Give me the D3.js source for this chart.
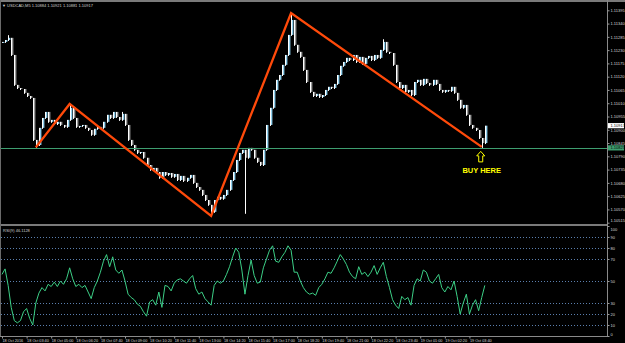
<!DOCTYPE html>
<html>
<head>
<meta charset="utf-8">
<script src="https://cdn.jsdelivr.net/npm/d3@7"></script>
<style>
  body { margin: 0; background: #000; }
  svg { display: block; }
  text { font-family: "Liberation Sans", Arial, sans-serif; }
</style>
</head>
<body>
<div id="chart"></div>
<script>
var W = 625, H = 343;

var symbol = "USDCAD,M5";
var headerOHLC = ["1.10884", "1.10921", "1.10881", "1.10917"];
var BASE = 1.1; // closes are in points above 1.10000

// one close per bar
var closePts = [
  1264, 1272, 1281, 1210, 1086, 1073, 1069, 1053, 1040, 1032,
  858, 837, 908, 949, 974, 933, 941, 924, 933, 920,
  912, 941, 991, 949, 912, 916, 920, 908, 899, 879,
  904, 912, 908, 933, 962, 949, 974, 953, 941, 966,
  920, 858, 837, 817, 804, 808, 784, 754, 734, 742,
  725, 701, 725, 713, 721, 705, 717, 692, 709, 688,
  701, 713, 680, 663, 651, 630, 609, 589, 560, 609,
  622, 614, 630, 651, 692, 725, 775, 804, 817, 784,
  825, 817, 784, 767, 754, 817, 920, 991, 1065, 1107,
  1127, 1169, 1210, 1293, 1355, 1252, 1223, 1202, 1148, 1098,
  1057, 1040, 1049, 1036, 1044, 1065, 1078, 1073, 1090, 1127,
  1165, 1181, 1198, 1189, 1210, 1181, 1202, 1173, 1198, 1206,
  1189, 1210, 1198, 1231, 1264, 1223, 1218, 1169, 1098, 1073,
  1086, 1057, 1065, 1044, 1098, 1107, 1086, 1111, 1094, 1086,
  1107, 1090, 1065, 1057, 1065, 1061, 1078, 1053, 1024, 991,
  1003, 962, 920, 908, 899, 866, 845, 917
];

// long wicks
var wickBars = [2, 11, 22, 39, 68, 79, 94, 124, 156];
var wickPts  = [1292, 827, 1007, 974, 543, 556, 1384, 1275, 829];

var rsiValues = [
  56, 61, 46, 26, 14, 12, 14, 22, 25, 16,
  10, 30, 39, 44, 41, 47, 45, 49, 45, 50,
  47, 52, 62, 52, 45, 47, 44, 46, 40, 34,
  44, 50, 58, 68, 74, 63, 72, 60, 57, 60,
  50, 38, 35, 33, 29, 27, 22, 18, 31, 33,
  28, 40, 26, 46, 45, 41, 48, 51, 52, 50,
  48, 52, 55, 43, 38, 40, 34, 31, 28, 46,
  50, 48, 50, 56, 63, 72, 80, 76, 60, 38,
  55, 69, 55, 48, 49, 62, 70, 78, 82, 68,
  67, 72, 76, 82, 78, 58, 58, 50, 44, 40,
  38, 39, 37, 44, 47, 52, 58, 57, 62, 68,
  74, 70, 65, 58, 54, 52, 63, 56, 58, 54,
  58, 64, 56, 62, 67, 54, 44, 33, 28, 25,
  36, 33, 35, 28, 46, 52, 50, 60, 58, 50,
  48, 52, 56, 44, 40, 45, 42, 50, 36, 20,
  30, 38, 20, 28, 33, 23, 35, 46
];

var zigzagBars = [11, 22, 68, 94, 156];
var zigzagPts  = [827, 1007, 543, 1384, 829];

var priceTicks = [1.11395, 1.11340, 1.11285, 1.11230, 1.11175, 1.11120, 1.11065,
  1.11010, 1.10955, 1.10900, 1.10845, 1.10790, 1.10735, 1.10680, 1.10625,
  1.10570, 1.10515];
var rsiTicks = [100, 90, 80, 70, 50, 30, 20, 10, 0];
var rsiLevels = [90, 80, 70, 50, 30, 20, 10];
var buyLevel = 1.10825, lastPrice = 1.10917, rsiLast = "46.1128";
var buyText = "BUY HERE";

var t0 = new Date(2016, 9, 18, 2, 20);
var barMs = 10 * 60 * 1000;
function barTime(i) { return new Date(t0.getTime() + i * barMs); }
var timeTicks = d3.range(0, closePts.length, 8).map(barTime);

var x = d3.scaleTime().domain([t0, barTime(157)]).range([2, 484.8]);
var y = d3.scaleLinear().domain([1.10515, 1.11395]).range([222.7, 10.3]);
var yr = d3.scaleLinear().domain([0, 100]).range([336, 226]);
function px(v) { return BASE + v / 100000; }

var svg = d3.select("#chart").append("svg").attr("width", W).attr("height", H);
svg.append("rect").attr("width", W).attr("height", H).attr("fill", "#000");

var defs = svg.append("defs");
defs.append("clipPath").attr("id", "clipMain").append("rect")
  .attr("x", 1).attr("y", 2).attr("width", 606).attr("height", 222);
defs.append("clipPath").attr("id", "clipRsi").append("rect")
  .attr("x", 1).attr("y", 226).attr("width", 606).attr("height", 110);

// frames
svg.append("rect").attr("x", 0).attr("y", 0).attr("width", W).attr("height", 2).attr("fill", "#7a7a7a");
svg.append("rect").attr("x", 0).attr("y", 224).attr("width", 608).attr("height", 2).attr("fill", "#7a7a7a");
svg.append("line").attr("x1", 0.5).attr("x2", 0.5).attr("y1", 0).attr("y2", 336).attr("stroke", "#6a6a6a");
svg.append("line").attr("x1", 0).attr("x2", 608).attr("y1", 336.5).attr("y2", 336.5).attr("stroke", "#8a8a8a");
svg.append("line").attr("x1", 607.5).attr("x2", 607.5).attr("y1", 0).attr("y2", 337).attr("stroke", "#8a8a8a");

// candles
var main = svg.append("g").attr("clip-path", "url(#clipMain)");
var bars = closePts.map(function(c, i) {
  var o = i ? closePts[i - 1] : c;
  var hi = Math.max(o, c), lo = Math.min(o, c);
  var k = wickBars.indexOf(i);
  if (k >= 0) { hi = Math.max(hi, wickPts[k]); lo = Math.min(lo, wickPts[k]); }
  return { i: i, o: o, c: c, hi: hi, lo: lo };
});
var cg = main.selectAll("g.bar").data(bars).enter().append("g").attr("class", "bar");
cg.append("line")
  .attr("x1", function(d) { return Math.round(x(barTime(d.i))) + 0.5; })
  .attr("x2", function(d) { return Math.round(x(barTime(d.i))) + 0.5; })
  .attr("y1", function(d) { return y(px(d.hi)); })
  .attr("y2", function(d) { return y(px(d.lo)) + 1; })
  .attr("stroke", "#ffffff").attr("stroke-width", 1);
cg.append("rect")
  .attr("x", function(d) { return Math.round(x(barTime(d.i))) + 1; })
  .attr("width", 1.4)
  .attr("y", function(d) { return y(px(Math.max(d.o, d.c))); })
  .attr("height", function(d) { return Math.max(1, y(px(Math.min(d.o, d.c))) - y(px(Math.max(d.o, d.c)))); })
  .attr("fill", function(d) { return d.c >= d.o ? "#8fd0ee" : "#9a9a9a"; });

// buy level line
main.append("line").attr("x1", 1).attr("x2", 607)
  .attr("y1", Math.round(y(buyLevel)) + 0.5).attr("y2", Math.round(y(buyLevel)) + 0.5)
  .attr("stroke", "#3e9e70").attr("stroke-width", 1);

// zigzag
var zz = zigzagBars.map(function(b, k) { return [x(barTime(b)), y(px(zigzagPts[k]))]; });
main.append("path").attr("d", d3.line()(zz))
  .attr("fill", "none").attr("stroke", "#ff4a0a").attr("stroke-width", 2.3)
  .attr("stroke-linejoin", "miter");

// arrow + text
var ax = x(barTime(zigzagBars[4])) - 1, ay = y(buyLevel) + 3.5;
var arrow = [[ax, ay], [ax + 4, ay + 4.5], [ax + 2, ay + 4.5], [ax + 2, ay + 10.5],
  [ax - 2, ay + 10.5], [ax - 2, ay + 4.5], [ax - 4, ay + 4.5]];
svg.append("path").attr("d", d3.line()(arrow) + "Z")
  .attr("fill", "none").attr("stroke", "#ffff00").attr("stroke-width", 1);
svg.append("text").attr("x", ax + 1).attr("y", ay + 21.5).attr("text-anchor", "middle")
  .attr("fill", "#ffff00").attr("font-size", "7.5px").attr("font-weight", "bold").text(buyText);

// title
svg.append("text").attr("x", 2).attr("y", 6.5).attr("fill", "#d0d0d0").attr("font-size", "4px")
  .text("\u25BC " + symbol + "  " + headerOHLC.join(" "));

// price axis
var pa = svg.append("g").attr("transform", "translate(607.5,0)")
  .call(d3.axisRight(y).tickValues(priceTicks).tickSize(2).tickFormat(d3.format(".5f")));
pa.select(".domain").remove();
pa.selectAll("line").attr("stroke", "#9a9a9a");
pa.selectAll("text").attr("fill", "#d8d8d8").attr("font-size", "4px").attr("x", 3)
  .attr("dy", function(d) { return d === 1.10515 ? "-0.2em" : "0.32em"; });

// price boxes
function priceBox(v, bg, fg) {
  var g = svg.append("g").attr("transform", "translate(608," + y(v) + ")");
  g.append("rect").attr("x", 0).attr("y", -2.6).attr("width", 16).attr("height", 5.2).attr("fill", bg);
  g.append("text").attr("x", 2.5).attr("y", 1.5).attr("fill", fg).attr("font-size", "4px").text(d3.format(".5f")(v));
}
priceBox(lastPrice, "#ffffff", "#000000");
priceBox(buyLevel, "#3e9e70", "#000000");

// RSI window
var rg = svg.append("g").attr("clip-path", "url(#clipRsi)");
rg.selectAll("line.lvl").data(rsiLevels).enter().append("line").attr("class", "lvl")
  .attr("x1", 1).attr("x2", 607)
  .attr("y1", function(d) { return Math.round(yr(d)) + 0.5; })
  .attr("y2", function(d) { return Math.round(yr(d)) + 0.5; })
  .attr("stroke", "#5b7fae").attr("stroke-width", 1).attr("stroke-dasharray", "1,2");
rg.append("path")
  .attr("d", d3.line().x(function(d, i) { return x(barTime(i)); }).y(function(d) { return yr(d); })(rsiValues))
  .attr("fill", "none").attr("stroke", "#3ccf86").attr("stroke-width", 1);

svg.append("text").attr("x", 3).attr("y", 231.5).attr("fill", "#d0d0d0").attr("font-size", "4px")
  .text("RSI(9) " + rsiLast);

var ra = svg.append("g").attr("transform", "translate(607.5,0)")
  .call(d3.axisRight(yr).tickValues(rsiTicks).tickSize(2).tickFormat(d3.format("d")));
ra.select(".domain").remove();
ra.selectAll("line").attr("stroke", "#9a9a9a");
ra.selectAll("text").attr("fill", "#d8d8d8").attr("font-size", "4px").attr("x", 3)
  .attr("dy", function(d) { return d === 100 ? "1em" : d === 0 ? "-0.2em" : "0.32em"; });

// time axis
var fmtFirst = d3.timeFormat("%d %b %Y"), fmt = d3.timeFormat("%d %b %H:%M");
var ta = svg.append("g").attr("transform", "translate(0,336.5)")
  .call(d3.axisBottom(x).tickValues(timeTicks).tickSize(2)
    .tickFormat(function(d, i) { return i ? fmt(d) : fmtFirst(d); }));
ta.select(".domain").remove();
ta.selectAll("line").attr("stroke", "#9a9a9a");
ta.selectAll("text").attr("fill", "#d8d8d8").attr("font-size", "3.8px")
  .attr("text-anchor", "start").attr("dy", 0).attr("y", 5.5);
</script>
</body>
</html>
